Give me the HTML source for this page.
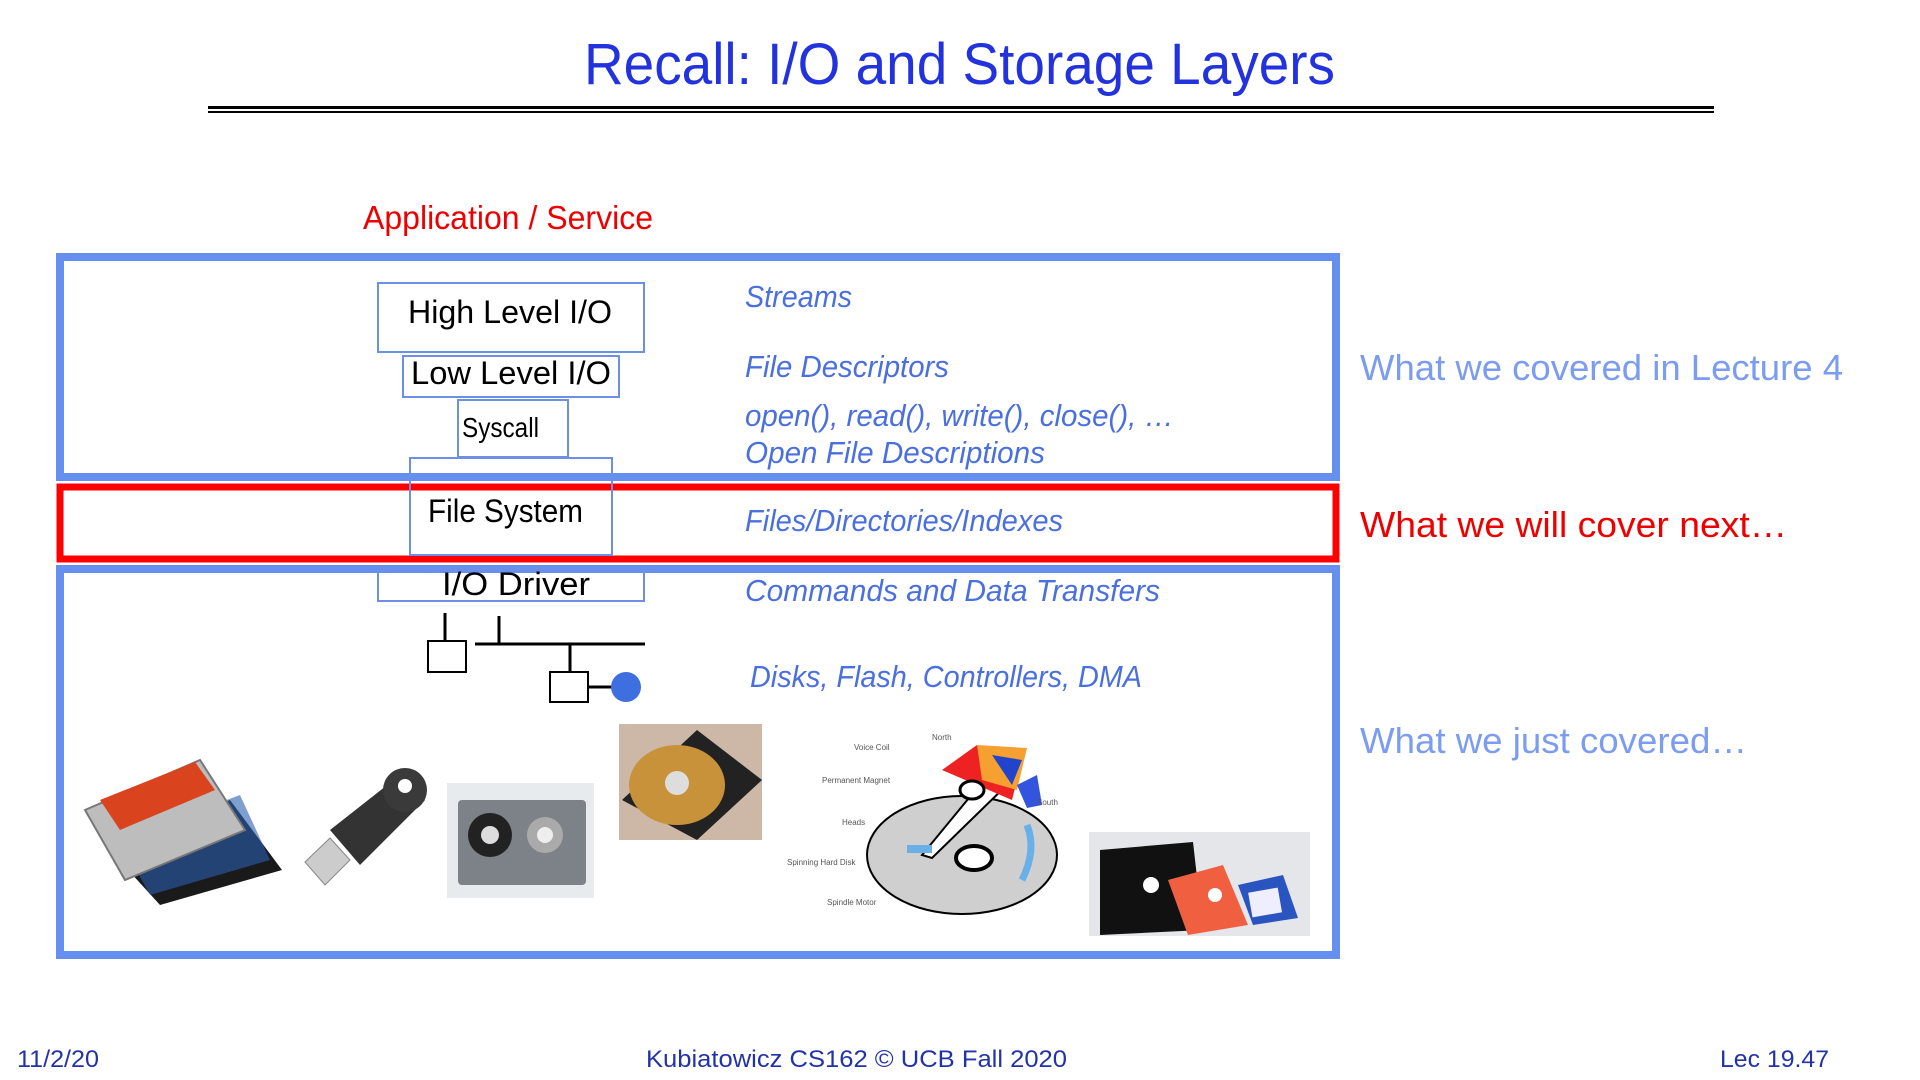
<!DOCTYPE html>
<html><head><meta charset="utf-8"><style>
html,body{margin:0;padding:0;background:#fff;}
svg{display:block;}
text{font-family:"Liberation Sans",sans-serif;}
</style></head><body>
<svg width="1920" height="1080" viewBox="0 0 1920 1080" xmlns="http://www.w3.org/2000/svg">
<rect width="1920" height="1080" fill="#fff"/>
<text x="584" y="84" font-size="58" fill="#2233dd" textLength="751" lengthAdjust="spacingAndGlyphs">Recall: I/O and Storage Layers</text>
<rect x="208" y="106" width="1506" height="3" fill="#000"/>
<rect x="208" y="111" width="1506" height="2" fill="#000"/>

<text x="363" y="229" font-size="33" fill="#ee0000" textLength="290" lengthAdjust="spacingAndGlyphs">Application / Service</text>

<rect x="60" y="257" width="1276" height="220" fill="none" stroke="#6690f0" stroke-width="8"/>
<rect x="60" y="569" width="1276" height="386" fill="none" stroke="#6690f0" stroke-width="8"/>
<rect x="60" y="487" width="1276" height="72" fill="none" stroke="#ff0000" stroke-width="7"/>

<g fill="none" stroke="#6e8fe6" stroke-width="2">
<rect x="378" y="283" width="266" height="69"/>
<rect x="403" y="356" width="216" height="41"/>
<rect x="458" y="400" width="110" height="57"/>
<rect x="410" y="458" width="202" height="97"/>
<rect x="378" y="569" width="266" height="32"/>
</g>
<rect x="382" y="573" width="258" height="26" fill="#fff"/>
<g fill="#000">
<text x="408" y="323" font-size="32" textLength="204" lengthAdjust="spacingAndGlyphs">High Level I/O</text>
<text x="411" y="384" font-size="32" textLength="200" lengthAdjust="spacingAndGlyphs">Low Level I/O</text>
<text x="462" y="437" font-size="28" textLength="77" lengthAdjust="spacingAndGlyphs">Syscall</text>
<text x="428" y="522" font-size="32" textLength="155" lengthAdjust="spacingAndGlyphs">File System</text>
<text x="442" y="595" font-size="32" textLength="148" lengthAdjust="spacingAndGlyphs">I/O Driver</text>
</g>

<g stroke="#000" stroke-width="3" fill="#fff">
<line x1="445" y1="613" x2="445" y2="641"/>
<line x1="499" y1="616" x2="499" y2="644"/>
<line x1="475" y1="644" x2="645" y2="644"/>
<line x1="570" y1="644" x2="570" y2="672"/>
<line x1="588" y1="687" x2="612" y2="687"/>
<rect x="428" y="641" width="38" height="31" stroke-width="2"/>
<rect x="550" y="672" width="38" height="30" stroke-width="2"/>
</g>
<circle cx="626" cy="687" r="15" fill="#3d6fe0"/>

<g fill="#4a6fe0" font-style="italic" font-size="31">
<text x="745" y="307" textLength="107" lengthAdjust="spacingAndGlyphs">Streams</text>
<text x="745" y="377" textLength="204" lengthAdjust="spacingAndGlyphs">File Descriptors</text>
<text x="745" y="426" textLength="429" lengthAdjust="spacingAndGlyphs">open(), read(), write(), close(), …</text>
<text x="745" y="463" textLength="300" lengthAdjust="spacingAndGlyphs">Open File Descriptions</text>
<text x="745" y="531" textLength="318" lengthAdjust="spacingAndGlyphs">Files/Directories/Indexes</text>
<text x="745" y="601" textLength="415" lengthAdjust="spacingAndGlyphs">Commands and Data Transfers</text>
<text x="750" y="687" textLength="392" lengthAdjust="spacingAndGlyphs">Disks, Flash, Controllers, DMA</text>
</g>

<text x="1360" y="380" font-size="36" fill="#7b9cf0" textLength="483" lengthAdjust="spacingAndGlyphs">What we covered in Lecture 4</text>
<text x="1360" y="537" font-size="36" fill="#ee0000" textLength="427" lengthAdjust="spacingAndGlyphs">What we will cover next…</text>
<text x="1360" y="753" font-size="36" fill="#7b9cf0" textLength="387" lengthAdjust="spacingAndGlyphs">What we just covered…</text>

<g>
<polygon points="110,850 230,800 282,870 160,905" fill="#1a1a1a"/>
<polygon points="120,840 240,795 270,860 150,895" fill="#2a5fb0" opacity="0.6"/>
<polygon points="85,810 200,760 245,830 125,880" fill="#bdbdbd" stroke="#777" stroke-width="2"/>
<polygon points="100,800 195,762 215,790 120,830" fill="#d9441e"/>
<polygon points="330,830 400,775 425,800 360,865" fill="#333"/>
<circle cx="405" cy="790" r="22" fill="#3a3a3a"/>
<circle cx="405" cy="786" r="7" fill="#fff"/>
<polygon points="305,862 330,838 350,860 325,885" fill="#ccc" stroke="#888"/>
<rect x="447" y="783" width="147" height="115" fill="#e8ebee"/>
<rect x="458" y="800" width="128" height="85" fill="#7d8288" rx="4"/>
<circle cx="490" cy="835" r="22" fill="#222"/>
<circle cx="490" cy="835" r="9" fill="#ddd"/>
<circle cx="545" cy="835" r="18" fill="#aaa"/>
<circle cx="545" cy="835" r="8" fill="#eee"/>
<rect x="619" y="724" width="143" height="116" fill="#cdb8a8"/>
<polygon points="622,800 697,730 762,780 697,840" fill="#222"/>
<ellipse cx="677" cy="785" rx="48" ry="40" fill="#c8923a"/>
<circle cx="677" cy="783" r="12" fill="#ddd"/>
<g transform="translate(-8,0)">
<ellipse cx="970" cy="855" rx="95" ry="59" fill="#cfcfcf" stroke="#000" stroke-width="2"/>
<ellipse cx="982" cy="858" rx="18" ry="12" fill="#fff" stroke="#000" stroke-width="4"/>
<polygon points="930,855 1000,770 1020,780 940,858" fill="#fff" stroke="#000" stroke-width="2"/>
<polygon points="950,770 985,745 1030,760 1020,800" fill="#ee2222"/>
<polygon points="985,745 1035,748 1025,790 990,780" fill="#f5a030"/>
<polygon points="1000,755 1030,760 1020,785" fill="#2244cc"/>
<polygon points="1025,785 1045,775 1050,805 1035,808" fill="#3355dd"/>
<ellipse cx="980" cy="790" rx="12" ry="9" fill="#fff" stroke="#000" stroke-width="3"/>
<path d="M1030,880 Q1045,850 1035,825" stroke="#6ab0e8" stroke-width="7" fill="none"/>
<rect x="915" y="845" width="25" height="8" fill="#6ab0e8"/>
<g font-size="8" fill="#555">
<text x="862" y="750">Voice Coil</text><text x="940" y="740">North</text>
<text x="830" y="783">Permanent Magnet</text><text x="1045" y="805">South</text>
<text x="850" y="825">Heads</text><text x="795" y="865">Spinning Hard Disk</text>
<text x="835" y="905">Spindle Motor</text>
</g>
</g>
<g transform="translate(-2,0)">
<rect x="1091" y="832" width="221" height="104" fill="#e4e6ea"/>
<polygon points="1102,850 1195,842 1205,930 1102,935" fill="#111"/>
<circle cx="1153" cy="885" r="8" fill="#fff"/>
<polygon points="1170,880 1225,865 1250,925 1190,935" fill="#f06040"/>
<circle cx="1217" cy="895" r="7" fill="#fff"/>
<polygon points="1240,885 1285,875 1300,918 1255,925" fill="#2a55c0"/>
<rect x="1252" y="890" width="30" height="25" fill="#eef" transform="rotate(-10 1267 902)"/>
</g>
</g>

<g fill="#2233aa" font-size="24">
<text x="17" y="1067" textLength="82" lengthAdjust="spacingAndGlyphs">11/2/20</text>
<text x="646" y="1067" textLength="421" lengthAdjust="spacingAndGlyphs">Kubiatowicz CS162 © UCB Fall 2020</text>
<text x="1720" y="1067" textLength="109" lengthAdjust="spacingAndGlyphs">Lec 19.47</text>
</g>
</svg>
</body></html>
